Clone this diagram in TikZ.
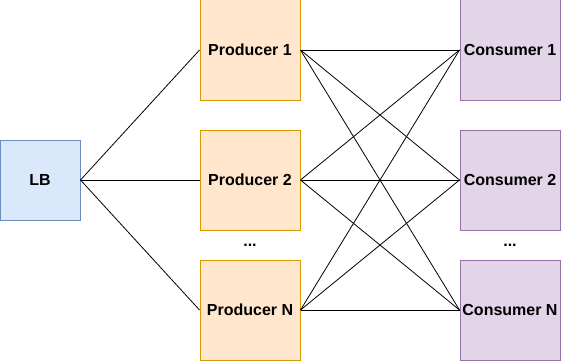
\documentclass[tikz,border=0pt]{standalone}
\usepackage{fontspec}
\setmainfont{Liberation Sans}
\usetikzlibrary{positioning}
\definecolor{lbfill}{HTML}{DAE8FC}
\definecolor{lbdraw}{HTML}{6C8EBF}
\definecolor{prodfill}{HTML}{FFE6CC}
\definecolor{proddraw}{HTML}{D79B00}
\definecolor{consfill}{HTML}{E1D5E7}
\definecolor{consdraw}{HTML}{9673A6}
\begin{document}
\begin{tikzpicture}[
    x=1pt, y=-1pt,
    font=\bfseries\fontsize{16}{19}\selectfont,
    box/.style={rectangle, minimum width=100pt, minimum height=100pt, inner sep=0pt, line width=1pt, align=center},
    lb/.style={box, draw=lbdraw, fill=lbfill, minimum width=80pt, minimum height=80pt},
    prod/.style={box, draw=proddraw, fill=prodfill},
    cons/.style={box, draw=consdraw, fill=consfill},
    link/.style={draw=black, line width=0.8pt}
]
\useasboundingbox (0,0) rectangle (561,361);

\node[lb] (lb) at (40,180) {LB};
\node[prod] (prod1) at (250,50) {Producer 1};
\node[prod] (prod2) at (250,180) {Producer 2};
\node[prod] (prodn) at (250,310) {Producer N};
\node[cons] (cons1) at (510,50) {Consumer 1};
\node[cons] (cons2) at (510,180) {Consumer 2};
\node[cons] (consn) at (510,310) {Consumer N};
\node (pdots) at (250,245) {...};
\node (cdots) at (510,245) {...};

\foreach \p in {prod1,prod2,prodn} {
    \draw[link] (lb.east) -- (\p.west);
    \foreach \c in {cons1,cons2,consn}
        \draw[link] (\p.east) -- (\c.west);
}

\end{tikzpicture}
\end{document}
